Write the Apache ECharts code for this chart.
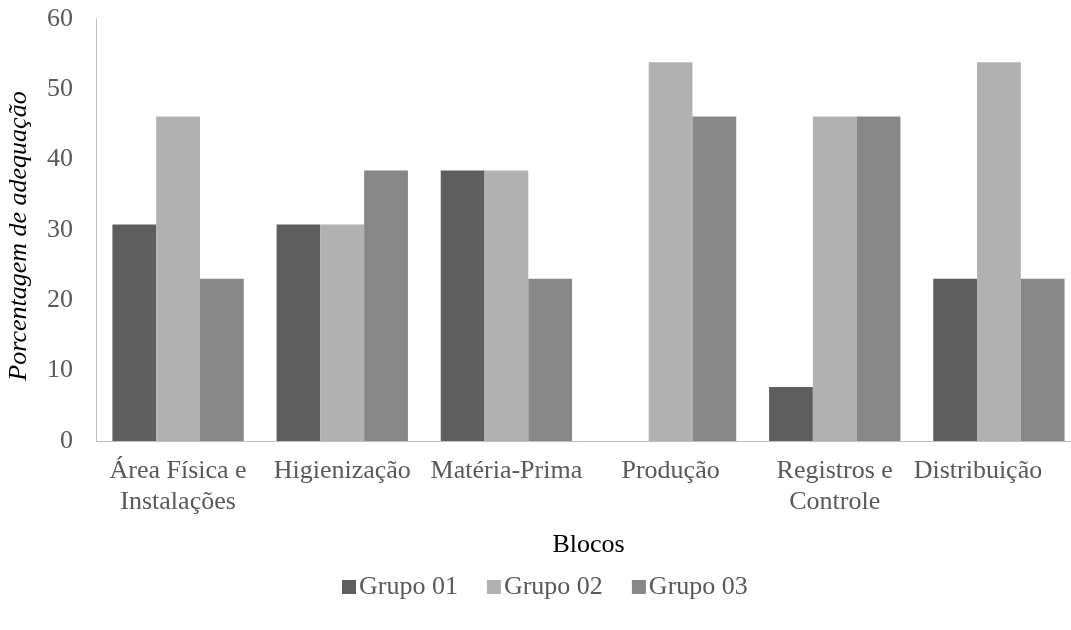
<!DOCTYPE html>
<html>
<head>
<meta charset="utf-8">
<script src="https://cdn.jsdelivr.net/npm/echarts@6/dist/echarts.min.js"></script>
<style>html,body{margin:0;padding:0;background:#fff;}#chart{width:1071px;height:630px;}</style>
</head>
<body>
<div id="chart"></div>
<script>
const categories = ['Área Física e\nInstalações', 'Higienização', 'Matéria-Prima', 'Produção', 'Registros e\nControle', 'Distribuição'];
const seriesNames = ['Grupo 01', 'Grupo 02', 'Grupo 03'];
const grupo01 = [30.77, 30.77, 38.46, 0, 7.69, 23.08];
const grupo02 = [46.15, 30.77, 38.46, 53.85, 46.15, 53.85];
const grupo03 = [23.08, 38.46, 23.08, 46.15, 46.15, 23.08];
const colors = ['#5e5e5e', '#b1b1b1', '#878787'];
const yTicks = {min: 0, max: 60, interval: 10};

const font = "'Liberation Serif', 'Times New Roman', serif";
const chart = echarts.init(document.getElementById('chart'));
const data = [grupo01, grupo02, grupo03];
const lastCat = categories[categories.length - 1];
chart.setOption({
  animation: false,
  backgroundColor: '#fff',
  grid: {left: 96, right: -10, top: 19, bottom: 189, containLabel: false, outerBoundsMode: 'none'},
  legend: {
    bottom: 30, left: 342, padding: 0,
    itemWidth: 14, itemHeight: 14, itemGap: 29,
    icon: 'rect',
    textStyle: {fontFamily: font, fontSize: 26, color: '#595959', padding: [0,0,0,-2]},
    data: seriesNames
  },
  xAxis: {
    type: 'category',
    data: categories,
    name: 'Blocos',
    nameLocation: 'middle',
    nameGap: 91,
    nameTextStyle: {fontFamily: font, fontSize: 26, color: '#000'},
    axisLine: {lineStyle: {color: '#bfbfbf', width: 1}},
    axisTick: {show: false},
    axisLabel: {
      interval: 0, margin: 15, fontFamily: font, fontSize: 26, color: '#595959', lineHeight: 31,
      formatter: v => v === lastCat ? '{shift|' + v + '}' : v,
      rich: {shift: {fontFamily: font, fontSize: 26, color: '#595959', padding: [0, 42, 0, 0]}}
    }
  },
  yAxis: {
    type: 'value',
    min: yTicks.min, max: yTicks.max, interval: yTicks.interval,
    name: 'Porcentagem de adequação',
    nameLocation: 'middle',
    nameGap: 64,
    nameTextStyle: {fontFamily: font, fontSize: 26, fontStyle: 'italic', color: '#000', padding: [0, 12, 0, 0]},
    axisLine: {show: true, lineStyle: {color: '#bfbfbf', width: 1}},
    axisTick: {show: false},
    splitLine: {show: false},
    axisLabel: {margin: 23, fontFamily: font, fontSize: 26, color: '#595959'}
  },
  series: seriesNames.map((n, i) => ({
    name: n,
    type: 'bar',
    data: data[i],
    barGap: '0%',
    barCategoryGap: '20%',
    itemStyle: {color: colors[i]}
  }))
});
</script>
</body>
</html>
